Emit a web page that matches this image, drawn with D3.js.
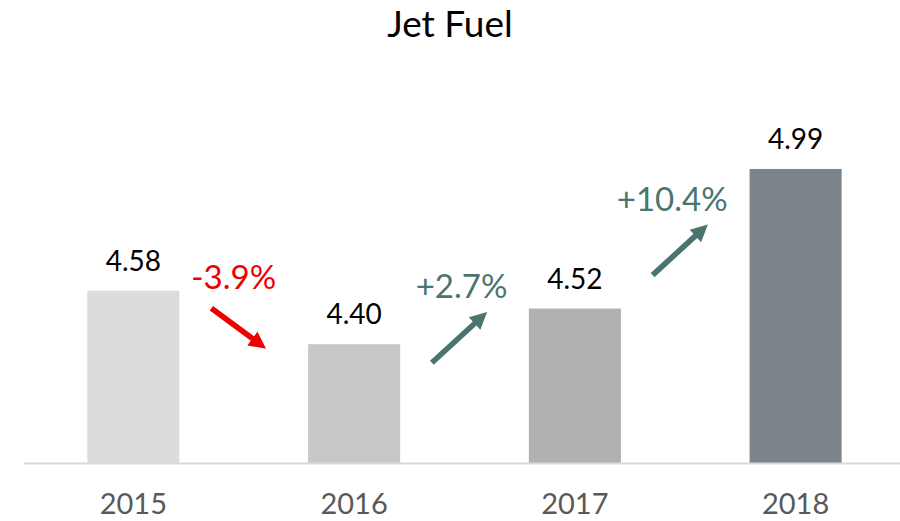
<!DOCTYPE html>
<html>
<head>
<meta charset="utf-8">
<script src="https://cdn.jsdelivr.net/npm/d3@7"></script>
<style>
  body { margin: 0; background: #fff; }
  svg { display: block; font-family: Lato, "Open Sans", sans-serif; }
</style>
</head>
<body>
<svg id="chart"></svg>
<script>
// ---------------- data ----------------
const years = ["2015", "2016", "2017", "2018"];
const prices = [4.58, 4.40, 4.52, 4.99];
const barColors = ["#dcdcdc", "#c8c8c8", "#b1b1b1", "#7a848a"];
const title = "Jet Fuel";

// ---------------- setup ----------------
const width = 900, height = 521;
const baseline = 463;

const svg = d3.select("#chart")
  .attr("width", width)
  .attr("height", height);

const xScale = d3.scaleBand()
  .domain(years)
  .range([23, 906])
  .paddingInner(0.583)
  .paddingOuter(0.2915);

const yScale = d3.scaleLinear()
  .domain([4, 5])
  .range([baseline, 166]);

// title
svg.append("text")
  .attr("x", 450)
  .attr("y", 37)
  .attr("text-anchor", "middle")
  .style("font-size", "37px")
  .style("fill", "#000")
  .text(title);

// bars
svg.append("g")
  .selectAll("rect")
  .data(years)
  .join("rect")
  .attr("x", d => xScale(d))
  .attr("y", (d, i) => yScale(prices[i]))
  .attr("width", xScale.bandwidth())
  .attr("height", (d, i) => baseline - yScale(prices[i]))
  .attr("fill", (d, i) => barColors[i]);

// value labels
svg.append("g")
  .selectAll("text")
  .data(years)
  .join("text")
  .attr("x", d => xScale(d) + xScale.bandwidth() / 2)
  .attr("y", (d, i) => yScale(prices[i]) - 20)
  .attr("text-anchor", "middle")
  .style("font-size", "28px")
  .style("fill", "#000")
  .text((d, i) => prices[i].toFixed(2));

// x axis
const xAxis = svg.append("g")
  .attr("transform", "translate(0," + baseline + ")")
  .call(d3.axisBottom(xScale).tickSize(0).tickPadding(30));
xAxis.select(".domain")
  .attr("stroke", "#d9d9d9")
  .attr("stroke-width", 2);
xAxis.selectAll("text")
  .style("font-family", "Lato, 'Open Sans', sans-serif")
  .style("font-size", "29px")
  .style("fill", "#595959");

// ---------------- change arrows ----------------
const changes = [];
for (let i = 1; i < prices.length; i++) {
  changes.push({
    from: years[i - 1],
    to: years[i],
    pct: (prices[i] - prices[i - 1]) / prices[i - 1] * 100,
    mid: (prices[i] + prices[i - 1]) / 2
  });
}

// arrow polygon pointing along +x, tip at (len/2, 0)
function arrowPath(len) {
  const shaft = 2.8, head = 8.5, headLen = 17;
  const a = -len / 2, b = len / 2 - headLen, c = len / 2;
  return "M" + a + "," + (-shaft) + "L" + b + "," + (-shaft) + "L" + b + "," + (-head) +
    "L" + c + ",0L" + b + "," + head + "L" + b + "," + shaft + "L" + a + "," + shaft + "Z";
}

const arrows = svg.append("g")
  .selectAll("g")
  .data(changes)
  .join("g")
  .attr("transform", d => {
    const gapMid = (xScale(d.from) + xScale.bandwidth() + xScale(d.to)) / 2 - 5;
    const cy = yScale(d.mid) + 11;
    return "translate(" + gapMid + "," + cy + ")";
  });

arrows.append("path")
  .attr("d", d => d.pct < 0 ? arrowPath(68) : arrowPath(75))
  .attr("transform", d => d.pct < 0 ? "rotate(36.5)" : "rotate(-42.5)")
  .attr("fill", d => d.pct < 0 ? "#ee0000" : "#4a7470");

arrows.append("text")
  .attr("x", d => d.pct < 0 ? -5 : (d.pct > 5 ? -8 : 2))
  .attr("y", -39)
  .attr("text-anchor", "middle")
  .style("font-size", "33px")
  .style("fill", d => d.pct < 0 ? "#ee0000" : "#4a7470")
  .text(d => (d.pct > 0 ? "+" : "") + d.pct.toFixed(1) + "%");
</script>
</body>
</html>
